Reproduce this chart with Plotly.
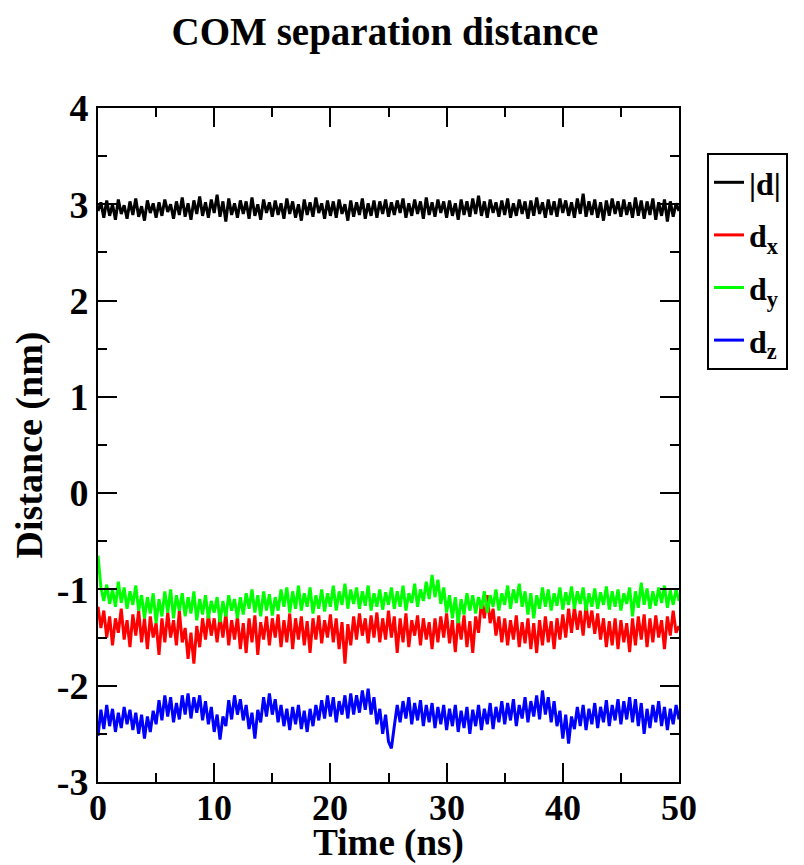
import plotly.graph_objects as go

# Time axis (ns), sampled every 0.25 ns
time_ns = [round(i * 0.25, 2) for i in range(201)]

# |d| (nm)
d_abs = [
    2.93, 3.02, 2.86, 3.04, 2.88, 3.00, 2.84, 3.05, 2.90, 2.99,
    2.85, 3.03, 2.89, 3.06, 2.87, 2.98, 2.83, 3.04, 2.91, 3.01,
    2.86, 3.02, 2.88, 3.05, 2.92, 3.00, 2.85, 3.03, 2.89, 3.07,
    2.87, 3.01, 2.84, 3.04, 2.90, 3.08, 2.88, 3.02, 2.86, 3.05,
    2.91, 3.10, 2.87, 3.03, 2.82, 3.06, 2.89, 3.01, 2.86, 3.04,
    2.90, 3.03, 2.85, 3.07, 2.88, 3.00, 2.84, 3.05, 2.91, 3.02,
    2.87, 3.04, 2.89, 3.01, 2.85, 3.06, 2.90, 3.03, 2.86, 3.00,
    2.83, 3.05, 2.89, 3.02, 2.87, 3.07, 2.91, 3.01, 2.85, 3.04,
    2.88, 3.03, 2.86, 3.05, 2.90, 3.00, 2.83, 3.04, 2.87, 3.02,
    2.89, 3.06, 2.85, 3.01, 2.88, 3.04, 2.86, 3.03, 2.90, 3.05,
    2.87, 3.02, 2.89, 3.04, 2.91, 3.06, 2.86, 3.01, 2.88, 3.05,
    2.90, 3.03, 2.85, 3.07, 2.89, 3.02, 2.87, 3.05, 2.91, 3.03,
    2.86, 3.04, 2.88, 3.01, 2.84, 3.05, 2.89, 3.03, 2.87, 3.06,
    2.90, 3.09, 2.88, 3.03, 2.86, 3.05, 2.91, 3.02, 2.87, 3.04,
    2.89, 3.06, 2.86, 3.01, 2.88, 3.05, 2.90, 3.03, 2.85, 3.04,
    2.88, 3.07, 2.90, 3.02, 2.86, 3.05, 2.89, 3.03, 2.87, 3.06,
    2.91, 3.04, 2.88, 3.02, 2.86, 3.06, 2.90, 3.11, 2.87, 3.03,
    2.89, 3.05, 2.86, 3.02, 2.83, 3.04, 2.88, 3.06, 2.90, 3.03,
    2.87, 3.05, 2.89, 3.02, 2.86, 3.07, 2.88, 3.04, 2.85, 3.03,
    2.89, 3.06, 2.84, 3.02, 2.88, 3.05, 2.82, 3.03, 2.87, 3.01,
    2.93,
]

# d_x (nm)
d_x = [
    -1.18, -1.40, -1.22, -1.50, -1.28, -1.58, -1.30, -1.45, -1.20, -1.52,
    -1.32, -1.60, -1.26, -1.48, -1.22, -1.55, -1.30, -1.62, -1.28, -1.50,
    -1.35, -1.68, -1.30, -1.55, -1.24, -1.50, -1.32, -1.58, -1.22, -1.55,
    -1.40, -1.72, -1.45, -1.77, -1.38, -1.60, -1.30, -1.52, -1.26, -1.48,
    -1.30, -1.55, -1.28, -1.50, -1.25, -1.58, -1.32, -1.52, -1.28, -1.62,
    -1.35, -1.66, -1.30, -1.55, -1.27, -1.68, -1.34, -1.52, -1.28, -1.58,
    -1.30, -1.50, -1.26, -1.60, -1.32, -1.55, -1.25, -1.62, -1.30, -1.52,
    -1.28, -1.58, -1.33, -1.66, -1.30, -1.52, -1.27, -1.56, -1.32, -1.50,
    -1.26, -1.55, -1.30, -1.62, -1.34, -1.77, -1.36, -1.58, -1.28, -1.52,
    -1.25, -1.48, -1.30, -1.56, -1.27, -1.50, -1.24, -1.55, -1.30, -1.52,
    -1.22, -1.50, -1.28, -1.66, -1.30, -1.55, -1.25, -1.60, -1.32, -1.48,
    -1.27, -1.58, -1.30, -1.52, -1.34, -1.62, -1.30, -1.55, -1.28, -1.50,
    -1.25, -1.56, -1.32, -1.65, -1.30, -1.52, -1.27, -1.60, -1.33, -1.66,
    -1.28, -1.45, -1.12, -1.30, -1.06, -1.35, -1.20, -1.48, -1.28, -1.55,
    -1.30, -1.58, -1.32, -1.52, -1.27, -1.60, -1.34, -1.56, -1.30, -1.62,
    -1.35, -1.66, -1.32, -1.58, -1.28, -1.55, -1.33, -1.62, -1.30, -1.52,
    -1.26, -1.50, -1.20, -1.45, -1.18, -1.42, -1.22, -1.48, -1.16, -1.40,
    -1.22, -1.46, -1.25, -1.52, -1.30, -1.60, -1.33, -1.58, -1.30, -1.62,
    -1.32, -1.55, -1.35, -1.65, -1.30, -1.58, -1.28, -1.52, -1.26, -1.60,
    -1.30, -1.55, -1.27, -1.50, -1.32, -1.62, -1.28, -1.48, -1.22, -1.45,
    -1.38,
]

# d_y (nm)
d_y = [
    -0.65, -0.98, -1.12, -0.95, -1.15, -1.00, -1.18, -0.92, -1.14, -0.98,
    -1.20, -1.02, -1.16, -0.96, -1.22, -1.06, -1.30, -1.08, -1.25, -1.04,
    -1.35, -1.10, -1.28, -1.02, -1.24, -1.00, -1.30, -1.06, -1.22, -1.04,
    -1.28, -1.08, -1.25, -1.02, -1.32, -1.10, -1.26, -1.06, -1.30, -1.12,
    -1.24, -1.08, -1.34, -1.12, -1.28, -1.06, -1.22, -1.10, -1.30, -1.08,
    -1.26, -1.04, -1.20, -1.00, -1.24, -1.06, -1.28, -1.02, -1.22, -1.05,
    -1.27, -1.08, -1.22, -1.00, -1.18, -0.98, -1.24, -1.02, -1.20, -0.96,
    -1.22, -1.04, -1.18, -0.98, -1.25, -1.06, -1.20, -1.00, -1.23, -1.04,
    -1.18, -0.96, -1.22, -1.02, -1.16, -0.94, -1.20, -1.00, -1.15, -0.98,
    -1.20, -1.02, -1.17, -0.96, -1.22, -1.04, -1.18, -1.00, -1.21, -1.03,
    -1.16, -0.98, -1.20, -1.02, -1.18, -0.96, -1.22, -1.04, -1.14, -0.94,
    -1.18, -1.00, -1.12, -0.92, -1.10, -0.85, -1.08, -0.90, -1.15, -0.98,
    -1.24, -1.06, -1.30, -1.08, -1.35, -1.10, -1.26, -1.04, -1.22, -1.06,
    -1.25, -1.08, -1.20, -1.02, -1.24, -1.06, -1.18, -1.00, -1.22, -1.04,
    -1.16, -0.96, -1.20, -1.00, -1.14, -0.94, -1.18, -1.02, -1.26, -1.04,
    -1.30, -1.06, -1.20, -0.98, -1.18, -1.00, -1.22, -1.04, -1.17, -0.98,
    -1.21, -1.03, -1.16, -0.97, -1.20, -1.02, -1.15, -0.98, -1.22, -1.04,
    -1.18, -0.99, -1.20, -1.03, -1.16, -0.97, -1.21, -1.02, -1.18, -1.00,
    -1.22, -1.04, -1.15, -0.98, -1.28, -1.02, -1.19, -0.93, -1.16, -0.99,
    -1.20, -1.02, -1.17, -0.98, -1.14, -0.96, -1.19, -1.01, -1.16, -1.00,
    -1.12,
]

# d_z (nm)
d_z = [
    -2.52, -2.25, -2.45, -2.20, -2.42, -2.24, -2.48, -2.28, -2.44, -2.22,
    -2.40, -2.25, -2.46, -2.28, -2.50, -2.30, -2.55, -2.32, -2.48, -2.26,
    -2.40, -2.15, -2.36, -2.10, -2.32, -2.12, -2.38, -2.18, -2.35, -2.10,
    -2.30, -2.08, -2.34, -2.12, -2.28, -2.10, -2.36, -2.16, -2.40, -2.22,
    -2.48, -2.30, -2.56, -2.32, -2.42, -2.15, -2.35, -2.10, -2.30, -2.14,
    -2.36, -2.20, -2.45, -2.28, -2.55, -2.25, -2.38, -2.12, -2.32, -2.08,
    -2.30, -2.14, -2.38, -2.20, -2.42, -2.24, -2.46, -2.22, -2.40, -2.20,
    -2.45, -2.26, -2.48, -2.24, -2.42, -2.20, -2.36, -2.15, -2.34, -2.10,
    -2.32, -2.12, -2.38, -2.16, -2.30, -2.10, -2.34, -2.08, -2.30, -2.10,
    -2.28, -2.05, -2.25, -2.03, -2.30, -2.12, -2.40, -2.24, -2.50, -2.30,
    -2.58, -2.65, -2.42, -2.20, -2.38, -2.16, -2.34, -2.12, -2.40, -2.18,
    -2.36, -2.15, -2.42, -2.20, -2.38, -2.18, -2.44, -2.22, -2.40, -2.20,
    -2.46, -2.24, -2.42, -2.20, -2.48, -2.26, -2.44, -2.22, -2.50, -2.25,
    -2.42, -2.20, -2.46, -2.24, -2.40, -2.18, -2.45, -2.22, -2.38, -2.16,
    -2.40, -2.18, -2.36, -2.14, -2.42, -2.20, -2.34, -2.12, -2.38, -2.16,
    -2.32, -2.10, -2.35, -2.05, -2.30, -2.12, -2.38, -2.16, -2.42, -2.26,
    -2.55, -2.30, -2.60, -2.32, -2.45, -2.22, -2.42, -2.20, -2.46, -2.24,
    -2.40, -2.18, -2.44, -2.22, -2.38, -2.15, -2.42, -2.20, -2.36, -2.14,
    -2.40, -2.16, -2.35, -2.12, -2.38, -2.14, -2.42, -2.18, -2.50, -2.24,
    -2.44, -2.20, -2.38, -2.16, -2.42, -2.22, -2.46, -2.24, -2.40, -2.20,
    -2.35,
]

series_names = ["<b>|d|</b>", "<b>d<sub>x</sub></b>", "<b>d<sub>y</sub></b>", "<b>d<sub>z</sub></b>"]
series_values = [d_abs, d_x, d_y, d_z]
series_colors = ["#000000", "#ff0000", "#00ff00", "#0000ff"]

x_tickvals = [0, 10, 20, 30, 40, 50]
x_ticktext = ["0", "10", "20", "30", "40", "50"]
y_tickvals = [-3, -2, -1, 0, 1, 2, 3, 4]
y_ticktext = ["-3", "-2", "-1", "0", "1", "2", "3", "4"]

FONT = "Liberation Serif, Times New Roman, serif"

# page body has an 8px margin, so the figure is 8px smaller than the window
W, H = 796, 857
L, R, T, B = 90, 125, 100, 83

fig = go.Figure()
for name, vals, col in zip(series_names, series_values, series_colors):
    fig.add_trace(go.Scatter(
        x=time_ns, y=vals, mode="lines", name=name, legendgroup=name,
        line=dict(color=col, width=3),
    ))

axis_common = dict(
    showline=True, linecolor="black", linewidth=2, mirror="allticks",
    ticks="inside", ticklen=19, tickwidth=2, tickcolor="black",
    showgrid=False, zeroline=False, automargin=True,
)

# x tick labels sit very close to the axis in the original, so they are
# drawn as annotations anchored at the tick values
fig.update_xaxes(
    range=[0, 50], tickmode="array", tickvals=x_tickvals, showticklabels=False,
    minor=dict(ticks="inside", ticklen=9, tickwidth=2, dtick=5, tick0=0, tickcolor="black", showgrid=False),
    title=dict(text="<b>Time (ns)</b>", font=dict(family=FONT, size=37, color="black"), standoff=46),
    **axis_common,
)
for v, t in zip(x_tickvals, x_ticktext):
    fig.add_annotation(
        x=v, xref="x", y=0, yref="paper", yanchor="top", yshift=-4,
        text="<b>%s</b>" % t, showarrow=False,
        font=dict(family=FONT, size=36, color="black"),
    )

fig.update_yaxes(
    range=[-3, 4], tickmode="array", tickvals=y_tickvals,
    ticktext=["<b>%s</b>" % t for t in y_ticktext],
    tickfont=dict(family=FONT, size=38, color="black"),
    minor=dict(ticks="inside", ticklen=9, tickwidth=2, dtick=0.5, tick0=0, tickcolor="black", showgrid=False),
    title=dict(text="<b>Distance (nm)</b>", font=dict(family=FONT, size=38, color="black"), standoff=6),
    **axis_common,
)

plot_h = H - T - B
plot_w = W - L - R
fig.update_layout(
    width=W, height=H,
    margin=dict(l=L, r=R, t=T, b=B, autoexpand=False),
    paper_bgcolor="white", plot_bgcolor="white",
    font=dict(family=FONT, color="black"),
    title=dict(text="<b>COM separation distance</b>", x=377 / W, xanchor="center",
               y=1 - 23 / H, yanchor="middle",
               font=dict(family=FONT, size=39, color="black")),
    showlegend=True,
    legend=dict(
        x=(699 - L) / plot_w, xanchor="left",
        y=(H - B - 145) / plot_h, yanchor="top",
        bordercolor="black", borderwidth=2, bgcolor="white",
        font=dict(family=FONT, size=32, color="black"),
        traceorder="grouped", tracegroupgap=8,
    ),
)

fig.write_html("out.html")
